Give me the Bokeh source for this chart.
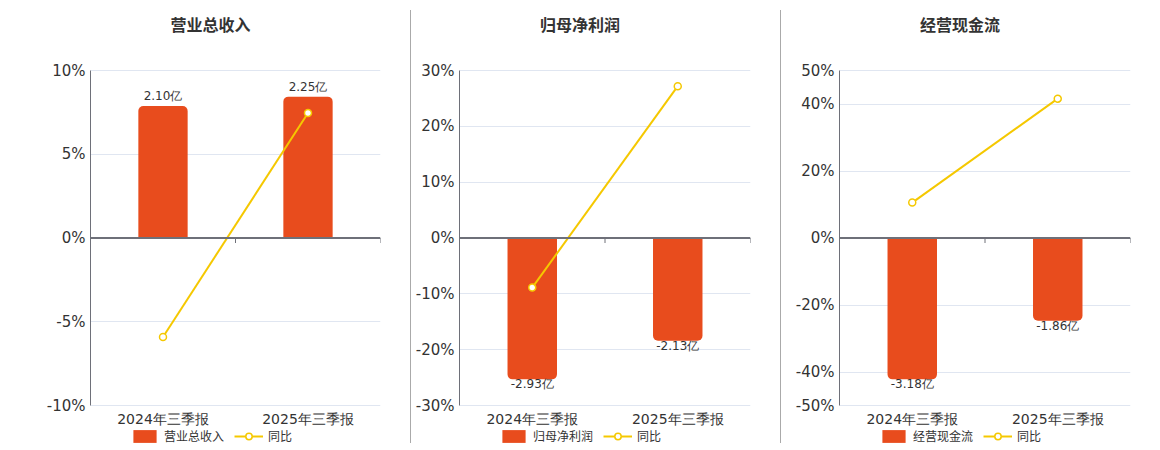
import math
from bokeh.plotting import figure
from bokeh.models import (Range1d, FactorRange, FixedTicker, PrintfTickFormatter,
                          ColumnDataSource, LabelSet, Label, Span, Legend, LegendItem, Div)
from bokeh.core.properties import value
from bokeh.layouts import row
from bokeh.embed import file_html
from bokeh.resources import INLINE

# ---- data ----
periods = ["2024年三季报", "2025年三季报"]

titles = ["营业总收入", "归母净利润", "经营现金流"]

revenue = [2.10, 2.25]          # 亿
revenue_yoy = [-5.91, 7.46]     # %
profit = [-2.93, -2.13]
profit_yoy = [-8.88, 27.2]
cashflow = [-3.18, -1.86]
cashflow_yoy = [10.57, 41.6]

pct_limits = [10, 30, 50]
pct_ticks = [
    [-10, -5, 0, 5, 10],
    [-30, -20, -10, 0, 10, 20, 30],
    [-50, -40, -20, 0, 20, 40, 50],
]

BAR = "#E84C1D"
YEL = "#F5C800"
TXT = "#333333"
AXIS = "#6E7079"
GRID = "#E0E6F1"
FONT = "DejaVu Sans"
CJK = "Noto Sans CJK SC"

H = 448          # figure height
TOP = 70         # screen y of the top of the value area
BOT = 405        # screen y of the bottom of the value area


def padded(lo, hi):
    k = (BOT - TOP) / (hi - lo)
    return Range1d(lo - (H - BOT) / k, hi + TOP / k)


def panel(title, values, yoy, lim, ticks, width, bl, br):
    p = figure(x_range=FactorRange(*periods), y_range=padded(-lim, lim),
               width=width, height=H, output_backend="svg", toolbar_location=None,
               min_border_left=bl, min_border_right=br, min_border_top=0,
               min_border_bottom=0)
    p.outline_line_color = None
    p.background_fill_color = "white"
    p.border_fill_color = "white"

    m = max(abs(v) for v in values) * 1.185
    p.extra_y_ranges = {"bar": padded(-m, m)}

    # axes
    p.yaxis.ticker = FixedTicker(ticks=ticks)
    p.yaxis.bounds = (-lim, lim)
    p.yaxis.formatter = PrintfTickFormatter(format="%d%%")
    p.yaxis.axis_line_color = AXIS
    p.yaxis.major_tick_line_color = None
    p.yaxis.minor_tick_line_color = None
    p.yaxis.major_tick_out = 0
    p.yaxis.major_label_standoff = 5
    p.yaxis.major_label_text_font = FONT
    p.yaxis.major_label_text_font_size = "15px"
    p.yaxis.major_label_text_color = TXT

    p.xaxis.fixed_location = -lim
    p.xaxis.axis_line_color = None
    p.xaxis.major_tick_line_color = None
    p.xaxis.major_tick_out = 0
    p.xaxis.major_label_standoff = 5
    p.xaxis.major_label_text_font = FONT
    p.xaxis.major_label_text_font_size = "14px"
    p.xaxis.major_label_text_color = TXT

    p.xgrid.grid_line_color = None
    p.ygrid.grid_line_color = GRID
    p.ygrid.ticker = FixedTicker(ticks=ticks)

    pos = values[0] >= 0
    src = ColumnDataSource(dict(
        x=periods,
        top=[max(v, 0) for v in values],
        bottom=[min(v, 0) for v in values],
        v=values,
        lab=[f"{v:.2f}亿" for v in values],
        yoy=yoy,
    ))
    radius = (5, 5, 0, 0) if pos else (0, 0, 5, 5)
    bars = p.vbar(x="x", top="top", bottom="bottom", width=0.34, source=src,
                  fill_color=BAR, line_color=None, y_range_name="bar",
                  border_radius=radius)

    zero = Span(location=0, dimension="width", line_color=AXIS, line_width=2)
    p.add_layout(zero)
    # small ticks on the zero line at the category boundaries
    bounds = list(range(len(periods) + 1))
    p.ray(x=bounds, y=[0] * len(bounds), length=5, length_units="screen",
          angle=-math.pi / 2, line_color=AXIS, line_width=1)

    line = p.line(x="x", y="yoy", source=src, line_color=YEL, line_width=2)
    dots = p.scatter(x="x", y="yoy", source=src, marker="circle", size=7,
                     fill_color="white", line_color=YEL, line_width=1.5)

    labels = LabelSet(x="x", y="v", text="lab", source=src, y_range_name="bar",
                      text_align="center", text_baseline="middle",
                      y_offset=10 if pos else -5,
                      text_font=value(FONT), text_font_size="12px", text_color=TXT)
    p.add_layout(labels)

    frame_w = width - bl - br
    t = Label(x=frame_w / 2 - 25, y=H - 23, x_units="screen", y_units="screen",
              text=title, text_align="center", text_baseline="middle",
              text_font=CJK, text_font_style="bold",
              text_font_size="16px", text_color=TXT)
    p.add_layout(t)

    legend = Legend(items=[LegendItem(label=title, renderers=[bars]),
                           LegendItem(label="同比", renderers=[line, dots])],
                    orientation="horizontal", location=(40, H - 444),
                    padding=0, margin=0, spacing=10, label_standoff=5,
                    glyph_width=29, glyph_height=16, label_height=16,
                    label_text_font=CJK, label_text_font_size="12px",
                    label_text_color=TXT, border_line_alpha=0,
                    background_fill_alpha=0)
    p.add_layout(legend)
    return p


p1 = panel(titles[0], revenue, revenue_yoy, pct_limits[0], pct_ticks[0], 410, 90, 30)
p2 = panel(titles[1], profit, profit_yoy, pct_limits[1], pct_ticks[1], 369, 48, 30)
p3 = panel(titles[2], cashflow, cashflow_yoy, pct_limits[2], pct_ticks[2], 379, 58, 30)


def sep():
    return Div(text="", width=1, height=433, margin=(10, 0, 0, 0),
               styles={"background-color": "#AAAAAA"})


layout = row(p1, sep(), p2, sep(), p3)

open("out.html", "w").write(file_html(layout, INLINE))
